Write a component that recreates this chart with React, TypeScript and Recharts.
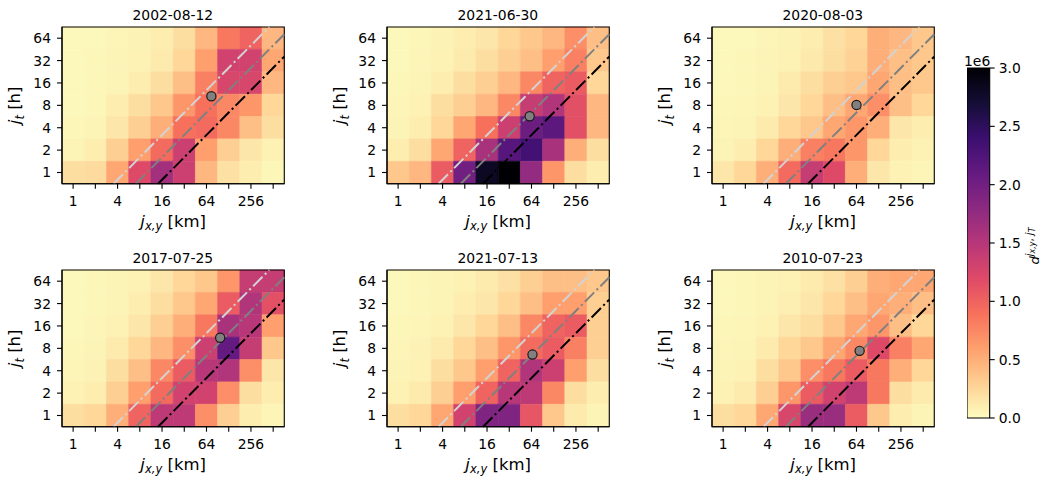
import React from 'react';
import { ScatterChart, XAxis, YAxis, Scatter, ReferenceArea, ReferenceLine } from 'recharts';

const X_KM = [1, 2, 4, 8, 16, 32, 64, 128, 256, 512];
const T_H = [1, 2, 4, 8, 16, 32, 64];
const DATES = ['2002-08-12', '2021-06-30', '2020-08-03', '2017-07-25', '2021-07-13', '2010-07-23'];

// rows go from j_t = 64 (top) down to j_t = 1, values in units of 1e6
const D_2002_08_12 = [
  [0.03, 0.03, 0.05, 0.07, 0.1, 0.2, 0.45, 0.85, 1.0, 0.45],
  [0.03, 0.04, 0.06, 0.08, 0.12, 0.25, 0.6, 1.3, 1.3, 0.55],
  [0.03, 0.04, 0.06, 0.1, 0.2, 0.4, 0.8, 1.25, 1.25, 0.45],
  [0.03, 0.04, 0.1, 0.2, 0.35, 0.65, 0.9, 0.75, 0.65, 0.25],
  [0.04, 0.06, 0.15, 0.3, 0.5, 0.9, 0.95, 0.75, 0.4, 0.2],
  [0.06, 0.1, 0.3, 0.6, 0.95, 1.35, 0.6, 0.3, 0.15, 0.08],
  [0.2, 0.22, 0.55, 1.2, 1.65, 1.35, 0.45, 0.18, 0.1, 0.04],
];
const D_2021_06_30 = [
  [0.03, 0.04, 0.07, 0.1, 0.15, 0.25, 0.35, 0.45, 0.7, 0.4],
  [0.03, 0.05, 0.08, 0.12, 0.2, 0.3, 0.4, 0.6, 0.8, 0.35],
  [0.04, 0.06, 0.1, 0.2, 0.3, 0.45, 0.75, 1.0, 1.05, 0.25],
  [0.05, 0.08, 0.2, 0.3, 0.45, 0.75, 1.4, 1.55, 1.15, 0.45],
  [0.06, 0.1, 0.25, 0.55, 0.9, 1.35, 2.05, 2.15, 1.15, 0.45],
  [0.1, 0.2, 0.55, 1.0, 1.6, 2.2, 2.35, 1.6, 0.5, 0.2],
  [0.35, 0.45, 1.05, 2.0, 2.8, 3.0, 1.75, 0.65, 0.2, 0.1],
];
const D_2020_08_03 = [
  [0.03, 0.03, 0.05, 0.07, 0.1, 0.18, 0.25, 0.5, 0.45, 0.35],
  [0.03, 0.04, 0.06, 0.08, 0.13, 0.2, 0.28, 0.5, 0.4, 0.35],
  [0.03, 0.04, 0.06, 0.12, 0.2, 0.3, 0.35, 0.55, 0.4, 0.35],
  [0.04, 0.05, 0.08, 0.15, 0.25, 0.4, 0.55, 0.7, 0.4, 0.25],
  [0.05, 0.06, 0.12, 0.25, 0.35, 0.55, 0.65, 0.5, 0.15, 0.1],
  [0.06, 0.1, 0.25, 0.5, 0.8, 0.85, 0.65, 0.25, 0.1, 0.08],
  [0.15, 0.25, 0.5, 0.95, 1.4, 1.2, 0.5, 0.15, 0.08, 0.05],
];
const D_2017_07_25 = [
  [0.03, 0.04, 0.06, 0.08, 0.15, 0.25, 0.35, 0.65, 1.4, 1.4],
  [0.03, 0.04, 0.06, 0.1, 0.2, 0.35, 0.55, 1.05, 1.55, 1.15],
  [0.03, 0.05, 0.08, 0.15, 0.3, 0.5, 0.85, 1.6, 1.5, 0.6],
  [0.04, 0.06, 0.12, 0.25, 0.45, 0.7, 1.35, 2.1, 1.4, 0.35],
  [0.05, 0.07, 0.2, 0.4, 0.75, 1.05, 1.5, 1.55, 0.7, 0.15],
  [0.08, 0.1, 0.3, 0.6, 0.95, 1.3, 1.3, 0.7, 0.2, 0.1],
  [0.2, 0.25, 0.5, 1.0, 1.45, 1.45, 0.7, 0.3, 0.1, 0.05],
];
const D_2021_07_13 = [
  [0.03, 0.04, 0.06, 0.08, 0.12, 0.18, 0.3, 0.4, 0.4, 0.35],
  [0.03, 0.04, 0.06, 0.1, 0.15, 0.25, 0.4, 0.6, 0.6, 0.3],
  [0.04, 0.05, 0.08, 0.15, 0.25, 0.4, 0.75, 1.0, 1.05, 0.3],
  [0.05, 0.07, 0.12, 0.25, 0.4, 0.65, 0.95, 1.05, 0.8, 0.3],
  [0.06, 0.08, 0.2, 0.35, 0.6, 1.0, 1.55, 1.35, 0.6, 0.2],
  [0.08, 0.12, 0.3, 0.6, 1.0, 1.5, 1.45, 0.75, 0.2, 0.1],
  [0.2, 0.25, 0.55, 1.3, 1.9, 1.9, 1.1, 0.35, 0.12, 0.06],
];
const D_2010_07_23 = [
  [0.03, 0.04, 0.06, 0.08, 0.12, 0.18, 0.3, 0.5, 0.55, 0.55],
  [0.03, 0.04, 0.06, 0.09, 0.15, 0.25, 0.4, 0.55, 0.5, 0.4],
  [0.04, 0.05, 0.08, 0.15, 0.2, 0.35, 0.55, 0.65, 0.4, 0.25],
  [0.05, 0.06, 0.12, 0.25, 0.35, 0.55, 0.75, 1.2, 0.8, 0.55],
  [0.06, 0.08, 0.2, 0.35, 0.7, 0.85, 1.05, 0.85, 0.5, 0.25],
  [0.08, 0.12, 0.3, 0.65, 1.05, 1.3, 1.45, 0.85, 0.2, 0.12],
  [0.2, 0.25, 0.55, 1.25, 1.7, 1.7, 1.05, 0.35, 0.1, 0.06],
];
const PANEL_VALUES = [D_2002_08_12, D_2021_06_30, D_2020_08_03, D_2017_07_25, D_2021_07_13, D_2010_07_23];

// grey marker per panel
const PEAK_X_KM = [74.5, 60.5, 64, 98, 66, 70.6];
const PEAK_T_H = [10.6, 5.7, 8.1, 11.1, 6.6, 7.4];

// reference speeds, km/h
const SPEEDS = [5, 10, 20];
const SPEED_COLORS = ['#d3d3d3', '#808080', '#000000'];

const CBAR_TICKS = [0, 0.5, 1, 1.5, 2, 2.5, 3];
const VMAX = 3;

const FONT = '"DejaVu Sans", sans-serif';
const PLOT_W = 222.3;
const PLOT_H = 156.7;
const PLOT_LEFTS = [61.7, 386.7, 711.7];
const PLOT_TOPS = [27.3, 270];
const Y_AXIS_W = 62;
const TOP_PAD = 27;
const X_AXIS_H = 50;

const MAGMA = [
  [0, 0, 4], [20, 14, 54], [59, 15, 112], [100, 26, 128], [140, 41, 129], [183, 55, 121],
  [222, 73, 104], [247, 112, 92], [254, 159, 109], [254, 207, 146], [252, 253, 191],
];

// magma_r
function colorFor(v: number) {
  const t = 1 - Math.min(Math.max(v / VMAX, 0), 1);
  const p = t * 10;
  const i = Math.min(Math.floor(p), 9);
  const f = p - i;
  const a = MAGMA[i];
  const b = MAGMA[i + 1];
  const c = a.map((av, k) => Math.round(av + (b[k] - av) * f));
  return `rgb(${c[0]},${c[1]},${c[2]})`;
}

function XLabel({ viewBox }: any) {
  const x = viewBox.x + viewBox.width / 2;
  const y = viewBox.y + 43;
  return (
    <text x={x} y={y} textAnchor="middle" fontFamily={FONT} fontSize={16.5} fill="#000">
      <tspan fontStyle="italic">j</tspan>
      <tspan fontSize={11.5} dy={3.5} fontStyle="italic">x,y</tspan>
      <tspan dy={-3.5}> [km]</tspan>
    </text>
  );
}

function YLabel({ viewBox }: any) {
  const x = viewBox.x + 20;
  const y = viewBox.y + viewBox.height / 2;
  return (
    <text x={x} y={y} transform={`rotate(-90 ${x} ${y})`} textAnchor="middle" fontFamily={FONT} fontSize={16.5} fill="#000">
      <tspan fontStyle="italic">j</tspan>
      <tspan fontSize={11.5} dy={3.5} fontStyle="italic">t</tspan>
      <tspan dy={-3.5}> [h]</tspan>
    </text>
  );
}

const tickStyle = { fill: '#000', fontSize: 13.9, fontFamily: FONT };
const axisLineStyle = { stroke: '#000', strokeWidth: 1.1 };

function Panel({ idx }: { idx: number }) {
  const col = idx % 3;
  const row = Math.floor(idx / 3);
  const plotLeft = PLOT_LEFTS[col];
  const plotTop = PLOT_TOPS[row];
  const values = PANEL_VALUES[idx];
  const u0 = -0.5;
  const u1 = X_KM.length - 0.5;
  const v0 = -0.5;
  const v1 = T_H.length - 0.5;

  const cells: React.ReactNode[] = [];
  values.forEach((r, ri) => {
    const tv = Math.log2(T_H[T_H.length - 1 - ri]);
    r.forEach((val, ci) => {
      const xu = Math.log2(X_KM[ci]);
      const fill = colorFor(val);
      cells.push(
        <ReferenceArea
          key={`c-${ri}-${ci}`}
          x1={xu - 0.5}
          x2={xu + 0.5}
          y1={tv - 0.5}
          y2={tv + 0.5}
          fill={fill}
          fillOpacity={1}
          stroke={fill}
          strokeWidth={0.6}
        />
      );
    });
  });

  const lines = SPEEDS.map((s, k) => {
    const off = Math.log2(s);
    const ax = Math.max(u0, v0 + off);
    const bx = Math.min(u1, v1 + off);
    return (
      <ReferenceLine
        key={`s-${k}`}
        segment={[{ x: ax, y: ax - off }, { x: bx, y: bx - off }]}
        stroke={SPEED_COLORS[k]}
        strokeWidth={2}
        strokeDasharray="13.3 3.3 2.1 3.3"
        ifOverflow="visible"
      />
    );
  });

  const peak = [{ u: Math.log2(PEAK_X_KM[idx]), v: Math.log2(PEAK_T_H[idx]) }];

  return (
    <div style={{ position: 'absolute', left: plotLeft - Y_AXIS_W, top: plotTop - TOP_PAD }}>
      <ScatterChart
        width={Y_AXIS_W + PLOT_W + 8}
        height={TOP_PAD + PLOT_H + X_AXIS_H}
        margin={{ top: TOP_PAD, right: 8, left: 0, bottom: 0 }}
      >
        <XAxis
          type="number"
          dataKey="u"
          domain={[u0, u1]}
          allowDataOverflow
          ticks={X_KM.map((x) => Math.log2(x))}
          interval={0}
          tickFormatter={(v: number) => (Math.round(v) % 2 === 0 ? String(X_KM[Math.round(v)]) : '')}
          tick={tickStyle}
          tickSize={5}
          tickMargin={7}
          axisLine={axisLineStyle}
          tickLine={axisLineStyle}
          height={X_AXIS_H}
          label={<XLabel />}
        />
        <YAxis
          type="number"
          dataKey="v"
          domain={[v0, v1]}
          allowDataOverflow
          ticks={T_H.map((t) => Math.log2(t))}
          interval={0}
          tickFormatter={(v: number) => String(T_H[Math.round(v)])}
          tick={tickStyle}
          tickSize={5}
          tickMargin={6}
          axisLine={axisLineStyle}
          tickLine={axisLineStyle}
          width={Y_AXIS_W}
          label={<YLabel />}
        />
        {cells}
        {lines}
        <ReferenceArea x1={u0} x2={u1} y1={v0} y2={v1} fill="none" stroke="#000" strokeWidth={1.1} />
        <Scatter
          data={peak}
          isAnimationActive={false}
          shape={(p: any) => <circle cx={p.cx} cy={p.cy} r={4.6} fill="#808080" stroke="#1a1a1a" strokeWidth={1.2} />}
        />
      </ScatterChart>
    </div>
  );
}

const CB_LEFT = 967.3;
const CB_TOP = 68.3;
const CB_W = 22.7;
const CB_H = 350;

function ColorBar() {
  const stops = MAGMA.map((_, i) => ({ off: i / 10, color: colorFor((i / 10) * VMAX) }));
  const tickPoints = CBAR_TICKS.map((t) => ({ x: 0.5, y: t }));
  return (
    <div style={{ position: 'absolute', left: CB_LEFT, top: CB_TOP - 10 }}>
      <ScatterChart width={CB_W + 50} height={CB_H + 20} margin={{ top: 10, right: 0, left: 0, bottom: 10 }}>
        <defs>
          <linearGradient id="cbarGrad" x1="0" y1="1" x2="0" y2="0">
            {stops.map((s, i) => (
              <stop key={i} offset={s.off} stopColor={s.color} />
            ))}
          </linearGradient>
        </defs>
        <XAxis type="number" dataKey="x" domain={[0, 1]} hide height={0} />
        <YAxis
          type="number"
          dataKey="y"
          orientation="right"
          domain={[0, VMAX]}
          ticks={CBAR_TICKS}
          interval={0}
          tickFormatter={(v: number) => v.toFixed(1)}
          tick={tickStyle}
          tickSize={5}
          tickMargin={4}
          axisLine={false}
          tickLine={axisLineStyle}
          width={50}
        />
        <ReferenceArea x1={0} x2={1} y1={0} y2={VMAX} fill="url(#cbarGrad)" fillOpacity={1} stroke="#000" strokeWidth={1.1} />
        <Scatter data={tickPoints} isAnimationActive={false} shape={() => <g />} />
      </ScatterChart>
    </div>
  );
}

export default function App() {
  return (
    <div style={{ position: 'absolute', left: 0, top: 0, width: 1049, height: 485, background: '#fff', fontFamily: FONT }}>
      {DATES.map((_, i) => (
        <Panel key={i} idx={i} />
      ))}
      <ColorBar />
      <svg width={1049} height={485} style={{ position: 'absolute', left: 0, top: 0, pointerEvents: 'none' }}>
        {DATES.map((d, i) => (
          <text
            key={d}
            x={PLOT_LEFTS[i % 3] + PLOT_W / 2}
            y={PLOT_TOPS[Math.floor(i / 3)] - 7}
            textAnchor="middle"
            fontFamily={FONT}
            fontSize={13.9}
            fill="#000"
          >
            {d}
          </text>
        ))}
        <text x={964} y={66} fontFamily={FONT} fontSize={13.9} fill="#000">1e6</text>
        <text
          x={1039}
          y={246}
          transform="rotate(-90 1039 246)"
          textAnchor="middle"
          fontFamily={FONT}
          fontSize={13}
          fill="#000"
        >
          <tspan fontStyle="italic">d</tspan>
          <tspan fontSize={10} dy={-6} fontStyle="italic">j</tspan>
          <tspan fontSize={8} dy={2} fontStyle="italic">x,y</tspan>
          <tspan fontSize={10} dy={-2}>, </tspan>
          <tspan fontSize={10} fontStyle="italic">j</tspan>
          <tspan fontSize={8} dy={2} fontStyle="italic">T</tspan>
        </text>
      </svg>
    </div>
  );
}
